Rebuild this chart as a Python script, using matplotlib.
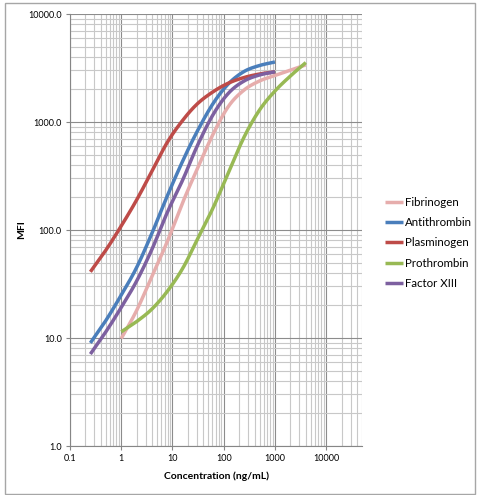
import matplotlib
matplotlib.use("Agg")
import matplotlib.pyplot as plt
import numpy as np
from matplotlib.ticker import LogLocator, FixedLocator, FuncFormatter, NullFormatter
from matplotlib.patches import Rectangle

plt.rcParams['font.family'] = ['Lato', 'DejaVu Sans']

# concentrations (ng/mL), 2-fold steps
conc_low = [0.25, 0.5, 1, 2, 4, 8, 16, 31, 63, 125, 250, 500, 1000]
conc_high = [1, 2, 4, 8, 16, 31, 63, 125, 250, 500, 1000, 2000, 4000]

# MFI
fibrinogen = [9.9, 18, 37.5, 79, 182, 375, 783, 1406, 1978, 2398, 2693, 3020, 3380]
antithrombin = [9.0, 14.5, 25, 45, 94, 209, 440, 834, 1500, 2271, 2937, 3335, 3594]
plasminogen = [41, 65, 109, 190, 352, 653, 1043, 1483, 1915, 2296, 2583, 2782, 2915]
prothrombin = [11.4, 14.2, 18.6, 27.2, 44.5, 83, 163, 344, 726, 1291, 1936, 2666, 3550]
factor_xiii = [7.1, 11.4, 19.2, 33.7, 66.7, 147, 294, 612, 1186, 1858, 2398, 2725, 2915]

series = [
    ("Fibrinogen", conc_high, fibrinogen, "#E6ADAC"),
    ("Antithrombin", conc_low, antithrombin, "#4A7EBB"),
    ("Plasminogen", conc_low, plasminogen, "#BE4B48"),
    ("Prothrombin", conc_high, prothrombin, "#98B954"),
    ("Factor XIII", conc_low, factor_xiii, "#7D60A0"),
]

x_ticks = [0.1, 1, 10, 100, 1000, 10000]
y_ticks = [1, 10, 100, 1000, 10000]


def smooth(x, y, n=12):
    # Excel-like smoothed line: Catmull-Rom through the points in log-log space
    lx = np.log10(x)
    ly = np.log10(y)
    px = np.concatenate([[2 * lx[0] - lx[1]], lx, [2 * lx[-1] - lx[-2]]])
    py = np.concatenate([[2 * ly[0] - ly[1]], ly, [2 * ly[-1] - ly[-2]]])
    t = np.linspace(0, 1, n, endpoint=False)
    outx, outy = [], []
    for i in range(1, len(px) - 2):
        for p, out in ((px, outx), (py, outy)):
            p0, p1, p2, p3 = p[i - 1], p[i], p[i + 1], p[i + 2]
            out.extend(0.5 * (2 * p1 + (-p0 + p2) * t + (2 * p0 - 5 * p1 + 4 * p2 - p3) * t ** 2
                              + (-p0 + 3 * p1 - 3 * p2 + p3) * t ** 3))
    outx.append(lx[-1])
    outy.append(ly[-1])
    return 10 ** np.array(outx), 10 ** np.array(outy)


fig = plt.figure(figsize=(4.79, 4.95), dpi=100)
fig.patches.append(Rectangle((4.5 / 479, 1.5 / 495), 470 / 479, 491 / 495,
                             transform=fig.transFigure, fill=False,
                             edgecolor="#A6A6A6", linewidth=1.0))
ax = fig.add_axes([70 / 479, 49 / 495, 292 / 479, 432 / 495])

for name, x, y, col in series:
    sx, sy = smooth(x, y)
    ax.plot(sx, sy, color=col, linewidth=2.5, label=name, solid_capstyle='butt')

ax.set_xscale('log')
ax.set_yscale('log')
ax.set_xlim(0.1, 50000)
ax.set_ylim(1, 10000)

ax.xaxis.set_major_locator(FixedLocator(x_ticks))
ax.yaxis.set_major_locator(FixedLocator(y_ticks))
ax.xaxis.set_minor_locator(LogLocator(base=10, subs=range(2, 10), numticks=20))
ax.yaxis.set_minor_locator(LogLocator(base=10, subs=range(2, 10), numticks=20))
ax.xaxis.set_major_formatter(FuncFormatter(lambda v, p: f"{v:g}"))
ax.yaxis.set_major_formatter(FuncFormatter(lambda v, p: f"{v:.1f}"))
ax.xaxis.set_minor_formatter(NullFormatter())
ax.yaxis.set_minor_formatter(NullFormatter())

ax.grid(True, which='major', color="#8C8C8C", linewidth=0.8)
ax.grid(True, which='minor', color="#C8C8C8", linewidth=0.8)
ax.set_axisbelow(True)

for s in ['top', 'right']:
    ax.spines[s].set_visible(False)
for s in ['left', 'bottom']:
    ax.spines[s].set_color("#868686")
    ax.spines[s].set_linewidth(0.8)

ax.tick_params(which='major', length=3, color="#868686", labelsize=6.5, pad=3)
ax.tick_params(which='minor', length=0)

ax.set_xlabel("Concentration (ng/mL)", fontsize=7.5, fontweight='bold', labelpad=6)
ax.set_ylabel("MFI", fontsize=7.5, fontweight='bold', labelpad=1.5)

ax.legend(loc='upper left', bbox_to_anchor=(385 / 479, 1 - 197 / 495),
          bbox_transform=fig.transFigure, frameon=False, fontsize=8.3,
          handlelength=1.6, handletextpad=0.1, labelspacing=0.8,
          borderaxespad=0, borderpad=0)

fig.savefig("out.png", dpi=100)
